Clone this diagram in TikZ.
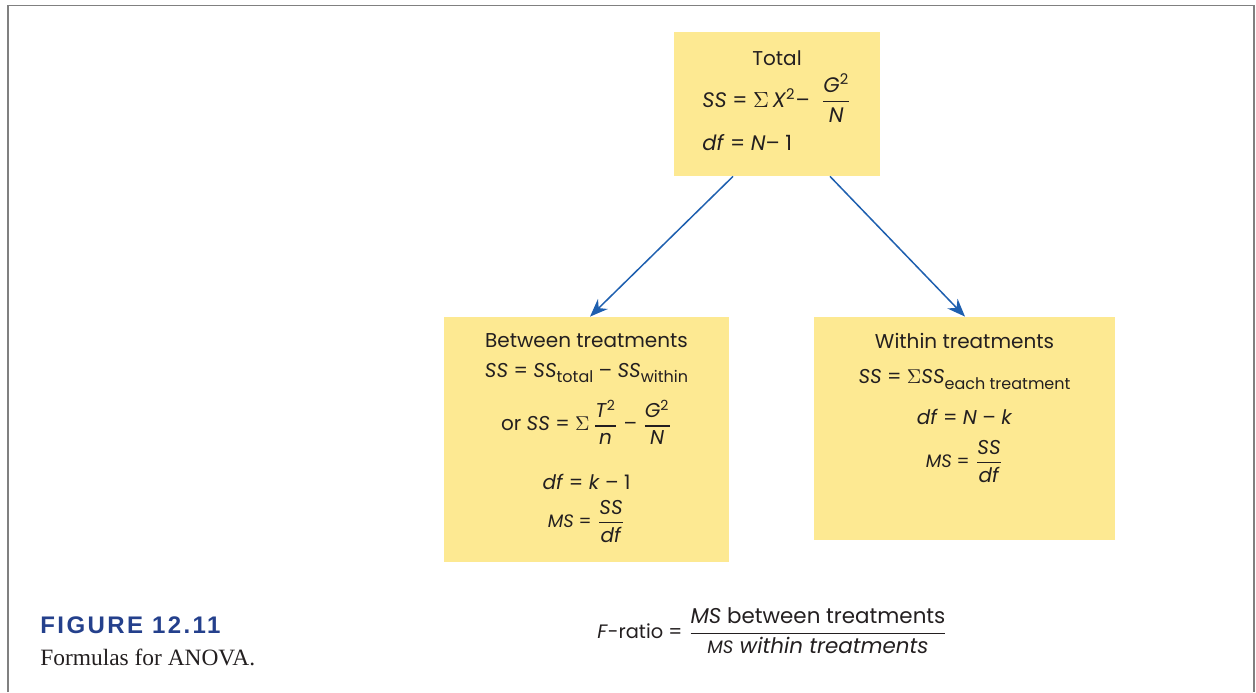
\documentclass[tikz,border=0pt]{standalone}
\usepackage{amsmath}
\usepackage{fontspec}
\setmainfont{Poppins}
\newfontfamily\capfont[LetterSpace=10]{Liberation Sans}
\newfontfamily\bookfont{Liberation Serif}
\usetikzlibrary{arrows.meta, positioning}

\definecolor{boxyellow}{RGB}{253,233,146}
\definecolor{arrowblue}{RGB}{30,95,175}
\definecolor{figblue}{RGB}{36,64,140}
\definecolor{framegray}{RGB}{128,128,128}
\definecolor{inkgray}{RGB}{35,31,32}

\newcommand{\frc}[2]{$\genfrac{}{}{0.6pt}{0}{\hbox{#1}}{\hbox{#2}}$}
\newcommand{\lowtxt}[1]{\raisebox{-0.5ex}{\fontsize{8}{9}\selectfont #1}}
\newcommand{\smalltxt}[1]{{\fontsize{9}{10}\selectfont #1}}
\newcommand{\sumsign}{$\Sigma$}
\newcommand{\vr}[1]{\textit{#1}}

\begin{document}
\begin{tikzpicture}[x=0.5pt, y=-0.5pt]
\tikzstyle{formbox} = [rectangle, fill=boxyellow, text=inkgray, align=center, font=\fontsize{10}{12}\selectfont, inner sep=0pt]
\tikzstyle{arrow} = [draw=arrowblue, line width=0.75pt, -{Stealth[length=9pt, width=7pt]}]

\useasboundingbox (0,0) rectangle (1256,692);
% open frame
\draw[framegray, line width=1pt] (7.5,692) -- (7.5,5.5);
\draw[framegray, line width=0.6pt] (7,5.5) -- (1254,5.5) -- (1254,692);

\node (total) [formbox, minimum width=103pt, minimum height=72pt] at (777,104) {Total\\[3pt]
  {\fontsize{10.5}{12.5}\selectfont
  \begin{tabular}{@{}l@{}}
  \vr{SS} = \sumsign\,\vr{X}\textsuperscript{2}–\ \ \frc{\vr{G}\textsuperscript{2}}{\vr{N}}\\[9pt]
  \vr{df} = \vr{N}– 1
  \end{tabular}}};

\node (between) [formbox, minimum width=142.5pt, minimum height=122.5pt] at (586.5,439.5) {Between treatments\\[3pt]
  \vr{SS} = \vr{SS}\lowtxt{total} – \vr{SS}\lowtxt{within}\\[7.5pt]
  or \vr{SS} = \sumsign\,\frc{\vr{T}\textsuperscript{2}}{\vr{n}} – \frc{\vr{G}\textsuperscript{2}}{\vr{N}}\\[14pt]
  \vr{df} = \vr{k} – 1\\[4pt]
  \smalltxt{\vr{MS} =} \frc{\vr{SS}}{\vr{df}}\\[-3pt]\mbox{}};

\node (within) [formbox, minimum width=150.5pt, minimum height=111.5pt] at (964.5,428.5) {Within treatments\\[5.5pt]
  \vr{SS} = \sumsign\vr{SS}\lowtxt{each treatment}\\[8.5pt]
  \vr{df} = \vr{N} – \vr{k}\\[6.5pt]
  \smalltxt{\vr{MS} =} \frc{\vr{SS}}{\vr{df}}\\[16pt]\mbox{}};

\draw[arrow] ([xshift=-22pt]total.south) -- ([xshift=1.75pt]between.north);
\draw[arrow] ([xshift=26.5pt]total.south) -- ([xshift=0.25pt]within.north);

\node (fratio) [anchor=west, text=inkgray, font=\fontsize{10.7}{12}\selectfont, inner sep=0pt] at (597,631)
  {{\fontsize{9.7}{11}\selectfont\vr{F}-ratio =}\ \frc{\vr{MS} between treatments}{\vr{\smalltxt{MS} within treatments}}};

\node (figlabel) [anchor=base west, text=figblue, font=\capfont\bfseries\fontsize{12}{14}\selectfont, inner sep=0pt] at (40,633) {FIGURE 12.11};
\node (figcaption) [anchor=base west, text=inkgray, font=\bookfont\fontsize{11.7}{14}\selectfont, inner sep=0pt] at ([yshift=-16pt]figlabel.base west) {Formulas for ANOVA.};
\end{tikzpicture}
\end{document}
